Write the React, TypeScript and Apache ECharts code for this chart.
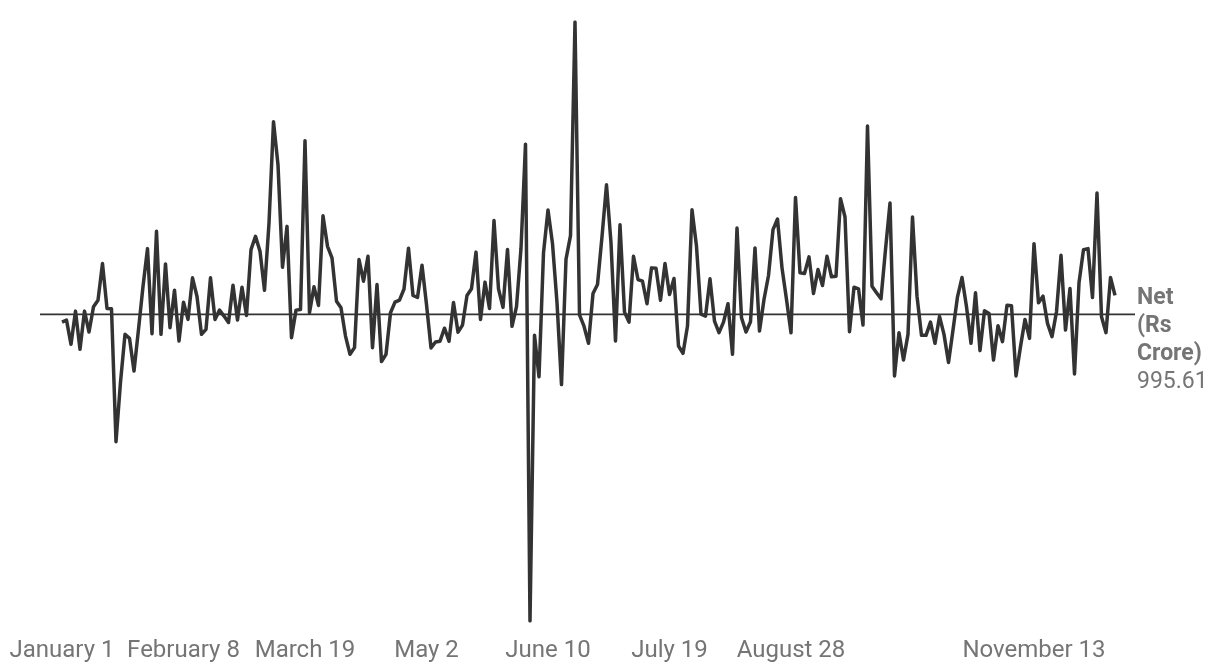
import React, { useEffect, useRef } from "react";
import * as echarts from "echarts";

// Net flows (Rs Crore), one value per trading day
const netFlow: number[] = [
  -400, -296, -1560, 172, -1820, 172, -920, 400, 744, 2652,
  312, 296, -6640, -3536, -1040, -1248, -2948, -780, 1456, 3432,
  -1004, 4332, -1040, 2636, -692, 1264, -1388, 640, -260, 1908,
  936, -1040, -780, 1908, -260, 224, -88, -420, 1524, -296,
  1420, -52, 3380, 4072, 3292, 1264, 4768, 10052, 7800, 2460,
  4592, -1212, 224, 260, 9064, 88, 1440, 468, 5148, 3552,
  2948, 692, 348, -1128, -2080, -1732, 2860, 1732, 3032, -1732,
  1560, -2460, -2080, 88, 640, 750, 1326, 3450, 988, 884,
  2570, 515, -1747, -1440, -1400, -718, -1400, 620, -926, -556,
  988, 1336, 3250, -265, 1685, 307, 4893, 1336, 369, 3390,
  -619, 411, 3453, 8882, -15990, -1087, -3250, 3208, 5444, 3692,
  619, -3661, 2876, 4108, 15252, -26, -614, -1508, 1092, 1560,
  4056, 6760, 3728, -1388, 4680, 120, -400, 3032, 1820, 1732,
  556, 2428, 2410, 744, 2652, 1040, 1872, -1648, -2028, -608,
  5460, 3552, 10, -88, 1856, -348, -952, -400, 556, -2080,
  4508, -172, -920, -380, 3468, -868, 780, 2028, 4420, 4976,
  2428, 780, -952, 6100, 2168, 2132, 3000, 1092, 2340, 1508,
  3032, 1960, 1992, 6032, 5080, -900, 1420, 1336, -556, 9828,
  1472, 1128, 816, 3380, 5808, -3208, -952, -2376, -1040, 5080,
  952, -1092, -1092, -400, -1508, -104, -1040, -2512, -816, 920,
  1924, 400, -1508, 1128, -1888, 192, 52, -2376, -588, -1420,
  484, 452, -3208, -1680, -260, -1248, 3692, 608, 952, -468,
  -1160, 140, 3084, -816, 1352, -3104, 1648, 3380, 3432, 884,
  6328, -120, -952, 1924, 995.61,
];

const tickIndex: number[] = [0, 27, 54, 81, 108, 135, 162, 216];
const tickLabels: string[] = [
  "January 1",
  "February 8",
  "March 19",
  "May 2",
  "June 10",
  "July 19",
  "August 28",
  "November 13",
];

const seriesName = "Net (Rs Crore)";

export default function App() {
  const ref = useRef<HTMLDivElement>(null);

  useEffect(() => {
    document.body.style.margin = "0";
    const chart = echarts.init(ref.current!, null, { renderer: "svg" });
    const categories = netFlow.map((_, i) => String(i));
    const gray = "#757575";
    const font = "Roboto";

    chart.setOption({
      animation: false,
      textStyle: { fontFamily: font },
      grid: { left: 62, right: 105, top: 22, bottom: 51, containLabel: false },
      xAxis: {
        type: "category",
        data: categories,
        boundaryGap: false,
        axisLine: { show: false },
        axisTick: { show: false },
        splitLine: { show: false },
        axisLabel: {
          interval: (index: number) => tickIndex.includes(index),
          formatter: (_v: string, index: number) => {
            const k = tickIndex.indexOf(index);
            return k >= 0 ? tickLabels[k] : "";
          },
          color: gray,
          fontSize: 24,
          fontFamily: font,
          margin: 16,
          hideOverlap: false,
        },
      },
      yAxis: {
        type: "value",
        min: (v: any) => v.min,
        max: (v: any) => v.max,
        axisLine: { show: false },
        axisTick: { show: false },
        axisLabel: { show: false },
        splitLine: { show: false },
      },
      series: [
        {
          name: seriesName,
          type: "line",
          data: netFlow,
          symbol: "none",
          lineStyle: { color: "#333333", width: 3.5, join: "round" },
          z: 3,
          endLabel: {
            show: true,
            distance: 22,
            offset: [0, 43],
            formatter: (p: any) =>
              "{b|Net}\n{b|(Rs}\n{b|Crore)}\n{v|" + String(p.value) + "}",
            rich: {
              b: {
                fontFamily: font,
                fontSize: 23,
                fontWeight: "bold",
                color: gray,
                lineHeight: 28,
              },
              v: {
                fontFamily: font,
                fontSize: 23,
                color: gray,
                lineHeight: 28,
              },
            },
          },
        },
      ],
    });

    const y0 = chart.convertToPixel({ yAxisIndex: 0 }, 0) as number;
    chart.setOption({
      graphic: [
        {
          type: "line",
          shape: { x1: 40, y1: y0, x2: 1135, y2: y0 },
          style: { stroke: "#333333", lineWidth: 1.8 },
          z: 1,
        },
      ],
    });

    return () => chart.dispose();
  }, []);

  return (
    <div
      ref={ref}
      style={{ position: "fixed", left: 0, top: 0, width: 1220, height: 672 }}
    />
  );
}
